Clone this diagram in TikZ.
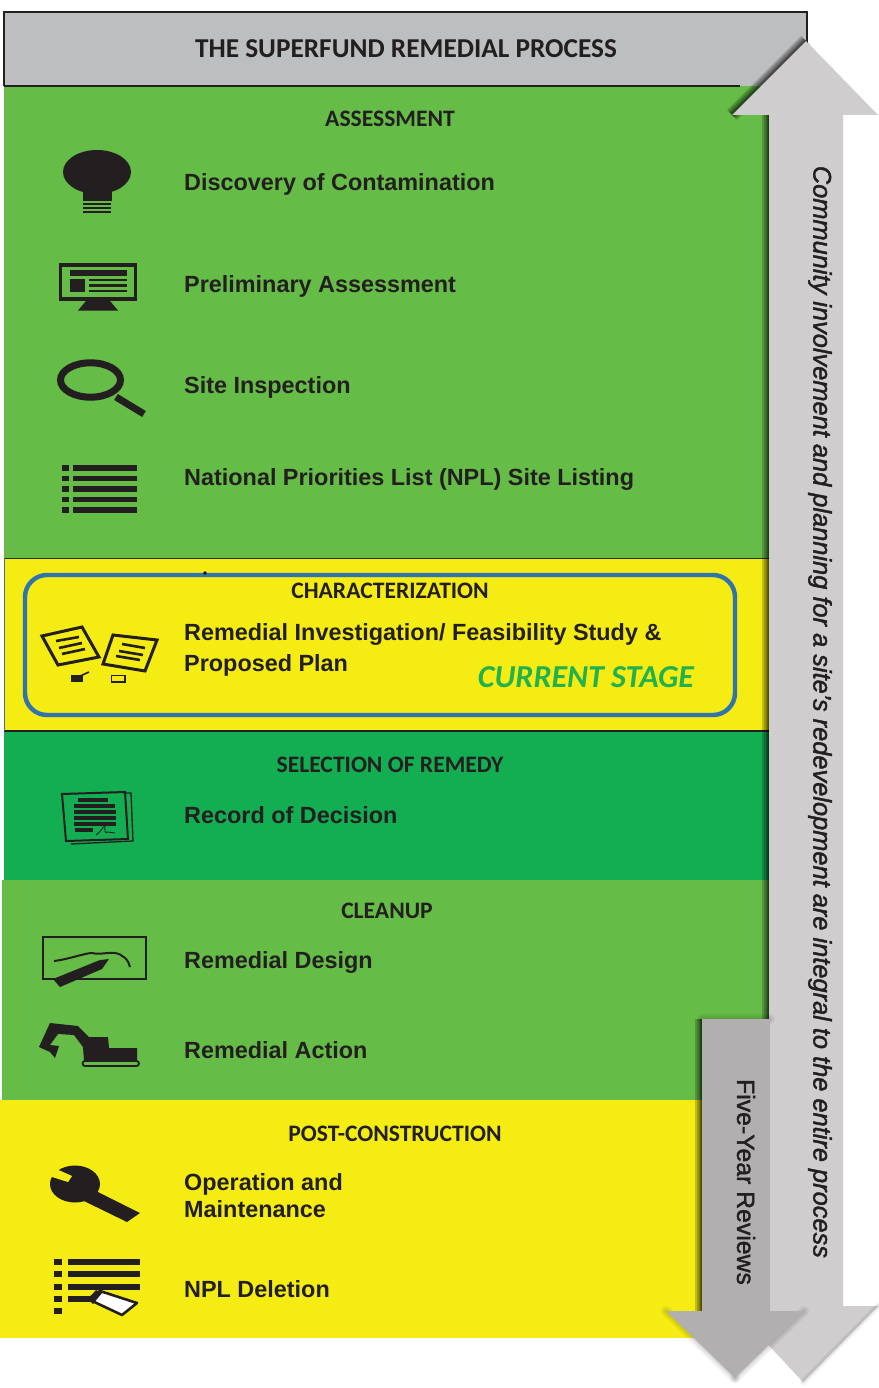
\documentclass[tikz,border=0pt]{standalone}
\usepackage{fontspec}
\setmainfont{Liberation Sans}
\newfontfamily\headfont{Carlito}
\newfontfamily\medfont[FakeBold=1.6,ItalicFeatures={FakeBold=1.6}]{Liberation Sans}
\definecolor{grnA}{HTML}{65BC46}
\definecolor{grnB}{HTML}{13AD52}
\definecolor{yelA}{HTML}{F5EC14}
\definecolor{hdrG}{HTML}{BDBEC0}
\definecolor{arrL}{HTML}{CFCDCE}
\definecolor{arrD}{HTML}{B1AFB0}
\definecolor{inkK}{HTML}{231F20}
\definecolor{blueB}{HTML}{2F74AE}
\definecolor{stageG}{HTML}{22B14C}
\tikzset{
  itemtext/.style={anchor=base west,inner sep=0pt,text=inkK,font=\fontsize{23.4}{28}\selectfont\bfseries},
  headtext/.style={anchor=base,inner sep=0pt,text=inkK,font=\headfont\fontsize{23.6}{26}\selectfont\bfseries},
  icon/.style={fill=inkK,draw=none},
  iconline/.style={draw=inkK,fill=none},
  soft/.style={opacity=0.2,line width=#1,draw=black,fill=none,line join=miter},
  softer/.style={opacity=0.05,line width=#1,draw=black,fill=none,line cap=round},
}
\begin{document}
\begin{tikzpicture}[x=1pt,y=-1pt]
\useasboundingbox (0,0) rectangle (878,1388);
\fill[white] (0,0) rectangle (878,1388);
% bands
\fill[hdrG] (4,12) rectangle (807,86);
\draw[inkK,line width=1.6pt] (4,86) -- (4,12) -- (807,12) -- (807,45);
\fill[grnA] (4,86) rectangle (770,558);
\draw[inkK,line width=1.4pt] (4,86) -- (740,86);
\fill[yelA] (4,558) rectangle (770,731);
\draw[black!70!grnA,line width=1pt] (4,558) -- (770,558);
\draw[inkK,line width=1.4pt] (4,731) -- (770,731);
\draw[black!60,line width=1pt] (4,558) -- (4,731);
\fill[grnB] (4,732) rectangle (770,880);
\fill[grnA] (2,880) rectangle (770,1100);
\fill[yelA] (0,1100) rectangle (705,1338);
% highlight frame
\draw[blueB,line width=4.4pt,rounded corners=22pt] (25,575) rectangle (735,715);
\fill[black] (205,573) circle (1.8);
% shadows of the tall arrow
\foreach \w in {14,10,7,4,2}{
  \draw[soft=\w pt] (769,115) -- (769,1020);
  \draw[soft=\w pt] (732,115) -- (806,41);
}
% tall arrow
\fill[arrL] (806,41) -- (878,115) -- (843,115) -- (843,1306) -- (878,1306) -- (803,1382) -- (732,1306) -- (769,1306) -- (769,115) -- (732,115) -- cycle;
\foreach \w in {6,3}{
  \draw[softer=\w pt] (803,1382) -- (878,1306);
}
% shadows of the five-year arrow
\foreach \w in {14,10,7,4,2}{
  \draw[soft=\w pt] (702,1311) -- (702,1019);
}
\foreach \w in {10,6,3}{
  \draw[softer=\w pt] (702,1019) -- (770,1019);
  \draw[softer=\w pt] (735,1378) -- (804,1311);
  \draw[softer=\w pt] (666,1311) -- (735,1378);
}
% five-year arrow
\fill[arrD] (702,1019) -- (770,1019) -- (770,1311) -- (804,1311) -- (735,1378) -- (666,1311) -- (702,1311) -- cycle;
% title and headings
\node[headtext,font=\headfont\fontsize{27.3}{30}\selectfont\bfseries] (title) at (406,58) {THE SUPERFUND REMEDIAL PROCESS};
\node[headtext] (hA) at (390,127) {ASSESSMENT};
\node[headtext] (hC) at (390,598) {CHARACTERIZATION};
\node[headtext] (hS) at (390,772) {SELECTION OF REMEDY};
\node[headtext] (hU) at (387,918) {CLEANUP};
\node[headtext] (hP) at (395,1141) {POST-CONSTRUCTION};
% items
\node[itemtext] (t1) at (184,191) {Discovery of Contamination};
\node[itemtext] (t2) at (184,292) {Preliminary Assessment};
\node[itemtext] (t3) at (184,393) {Site Inspection};
\node[itemtext] (t4) at (184,485) {National Priorities List (NPL) Site Listing};
\node[itemtext] (t5) at (184,640) {Remedial Investigation/ Feasibility Study \&};
\node[itemtext] (t6) at (184,671) {Proposed Plan};
\node[anchor=base,inner sep=0pt,text=stageG,font=\headfont\fontsize{32}{34}\selectfont\bfseries\itshape] (stage) at (586,687) {CURRENT STAGE};
\node[itemtext] (t7) at (184,823) {Record of Decision};
\node[itemtext] (t8) at (184,968) {Remedial Design};
\node[itemtext] (t9) at (184,1058) {Remedial Action};
\node[itemtext] (t10) at (184,1190) {Operation and};
\node[itemtext] (t11) at (184,1217) {Maintenance};
\node[itemtext] (t12) at (184,1297) {NPL Deletion};
% side texts
\node[inner sep=0pt,rotate=-90,text=inkK,font=\medfont\fontsize{25.4}{28}\selectfont\itshape] (side) at (820,712) {Community involvement and planning for a site’s redevelopment are integral to the entire process};
\node[inner sep=0pt,rotate=-90,text=inkK,font=\medfont\fontsize{24.8}{28}\selectfont] (five) at (746,1182) {Five-Year Reviews};
% bulb
\fill[icon] (97,172) ellipse (34 and 22);
\fill[icon] (83,185) rectangle (112,201);
\foreach \y in {203,207,211} \fill[icon] (83,\y) rectangle (111,\y+2.4);
% monitor
\draw[iconline,line width=3.4pt] (60.5,265) rectangle (135.5,299);
\fill[icon] (70,270) rectangle (127,275.5);
\fill[icon] (70,279) rectangle (85,292);
\foreach \y in {280,285.5,291} \fill[icon] (89,\y-1.3) rectangle (127,\y+1.3);
\fill[icon] (78,310.5) -- (118,310.5) -- (110,301) -- (86,301) -- cycle;
% magnifier
\draw[iconline,line width=7pt] (90.5,380) ellipse (30 and 17.2);
\draw[iconline,line width=7pt] (116,397) -- (144,414);
% list
\foreach \y in {468,478.5,489,499.5,510}{
  \fill[icon] (62,\y-3) rectangle (69,\y+2.6);
  \fill[icon] (73,\y-3) rectangle (137,\y+2.6);
}
% papers
\draw[iconline,line width=3pt,line join=miter] (42,636) -- (82,627) -- (99,657) -- (58,665) -- cycle;
\draw[iconline,line width=2.6pt] (56,641) -- (79,637) (59,648) -- (82,643) (62,654) -- (85,649);
\draw[iconline,line width=3pt,line join=miter] (113,635) -- (157,640) -- (145,671) -- (103,664) -- cycle;
\draw[iconline,line width=2.6pt] (122,644) -- (145,648) (119,651) -- (143,655) (116,656) -- (140,660);
\fill[icon] (71,675) rectangle (83,682);
\draw[iconline,line width=1.6pt] (78,677) -- (89,672);
\draw[iconline,line width=1.8pt] (111.5,675.5) rectangle (125,682);
% record of decision
\draw[iconline,line width=1.3pt] (125,793) -- (131,793) -- (133,841) -- (71,844);
\draw[iconline,line width=2pt] (62,794) -- (125,792) -- (128,839) -- (66,841) -- cycle;
\foreach \xa/\xb/\y in {78/108/800,74/115/806,74/116/812,74/116/818,74/116/824,75/93/830}
  \draw[iconline,line width=3.4pt] (\xa,\y) -- (\xb,\y);
\draw[iconline,line width=0.9pt] (96,835) .. controls (101,832) and (103,826) .. (105,826) .. controls (105,830) and (104,834) .. (108,832) -- (115,833);
% design
\draw[iconline,line width=1.5pt] (43,937) rectangle (146,979);
\draw[iconline,line width=2pt] (54,961) .. controls (70,959) and (85,953) .. (92,953) .. controls (100,955) and (108,952) .. (115,953) .. controls (122,954) and (129,960) .. (130,967);
\fill[icon] (53,979) -- (100,960) -- (109,959) -- (102,969) -- (60,987) -- cycle;
% excavator
\fill[icon] (39,1047) -- (50,1023) -- (78,1026) -- (89,1037) -- (108,1037) -- (109,1048) -- (137,1048) -- (137,1061) -- (84,1061) -- (83,1047) -- (74,1035) -- (58,1034) -- (50,1045) -- (59,1046) -- (55,1058) -- (50,1052) -- cycle;
\draw[iconline,line width=1.8pt,rounded corners=2.5pt] (82.5,1061) rectangle (139,1066);
% wrench
\fill[icon] (75,1184) ellipse (25 and 18.5);
\fill[icon] (86,1186) -- (140,1213) -- (127,1222) -- (84,1201) -- cycle;
\fill[yelA] (54,1168) -- (72,1176) -- (68,1182) -- (49,1176) -- cycle;
% NPL deletion
\foreach \y in {1262,1274,1286.5}{
  \fill[icon] (54,\y-3) rectangle (62,\y+3);
  \fill[icon] (68,\y-3) rectangle (140,\y+3);
}
\fill[icon] (54,1295.5) rectangle (62,1301.5);
\fill[icon] (68,1295.5) rectangle (95,1301.5);
\fill[icon] (54,1307.5) rectangle (62,1313.5);
\fill[white,draw=inkK,line width=2.6pt,line join=round] (100,1291) -- (137,1303) -- (122,1315) -- (88,1299) -- cycle;
\fill[icon] (96,1290) -- (102,1293) -- (93,1304) -- (88,1299) -- cycle;
\end{tikzpicture}
\end{document}
